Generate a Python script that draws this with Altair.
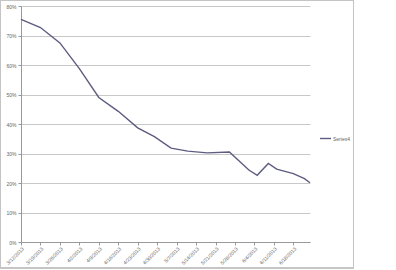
import altair as alt
import pandas as pd

dates = ["2013-03-12", "2013-03-19", "2013-03-26", "2013-04-02", "2013-04-09",
         "2013-04-16", "2013-04-23", "2013-04-29", "2013-05-05", "2013-05-11",
         "2013-05-18", "2013-05-26", "2013-06-02", "2013-06-05", "2013-06-09",
         "2013-06-12", "2013-06-18", "2013-06-22", "2013-06-24"]
values = [0.755, 0.727, 0.675, 0.588, 0.490, 0.443, 0.387, 0.357, 0.318, 0.308,
          0.302, 0.305, 0.244, 0.226, 0.266, 0.247, 0.232, 0.215, 0.201]
series = ["Series4"] * len(dates)

tick_days = [(3, 12), (3, 19), (3, 26), (4, 2), (4, 9), (4, 16), (4, 23), (4, 30),
             (5, 7), (5, 14), (5, 21), (5, 28), (6, 4), (6, 11), (6, 18)]
y_ticks = [0, 0.1, 0.2, 0.3, 0.4, 0.5, 0.6, 0.7, 0.8]

df = pd.DataFrame({"date": dates, "value": values, "series": series})

tick_vals = [alt.DateTime(year=2013, month=m, date=d, utc=True) for m, d in tick_days]

W, H = 289, 236

line = alt.Chart(df).mark_line(strokeWidth=1.4).encode(
    x=alt.X("date:T",
            scale=alt.Scale(type="utc",
                            domain=[alt.DateTime(year=2013, month=3, date=12, utc=True),
                                    alt.DateTime(year=2013, month=6, date=24, utc=True)]),
            axis=alt.Axis(values=tick_vals, format="%-m/%-d/%Y", labelAngle=-45,
                          labelFontSize=5, labelColor="#666", grid=False,
                          domainColor="#999", tickColor="#999", tickSize=3,
                          title=None, labelPadding=1)),
    y=alt.Y("value:Q",
            scale=alt.Scale(domain=[0, 0.8], nice=False),
            axis=alt.Axis(values=y_ticks, format=".0%", labelFontSize=5,
                          labelColor="#666", gridColor="#c8c8c8", domainColor="#999",
                          tickColor="#999", tickSize=3, title=None, labelPadding=2)),
    color=alt.Color("series:N",
                    scale=alt.Scale(range=["#5d5c80"]),
                    legend=alt.Legend(title=None, orient="none", legendX=298, legendY=126,
                                      symbolType="stroke", symbolSize=120,
                                      symbolStrokeWidth=1.4, labelFontSize=5,
                                      labelColor="#666", labelOffset=1))
)

border = alt.Chart(df).mark_rect(fill=None, stroke="#c4c4c4", strokeWidth=1).encode(
    x=alt.value(-20.5), x2=alt.value(332.5), y=alt.value(-5.5), y2=alt.value(262)
)

chart = alt.layer(border, line).properties(
    width=W, height=H,
    autosize=alt.AutoSizeParams(type="none"),
    padding={"left": 21, "top": 6, "right": 86, "bottom": 28},
).configure(font="Liberation Sans", background="white", view=alt.ViewConfig(stroke=None))

chart.save("out.html", embed_options={"renderer": "svg", "actions": False})
